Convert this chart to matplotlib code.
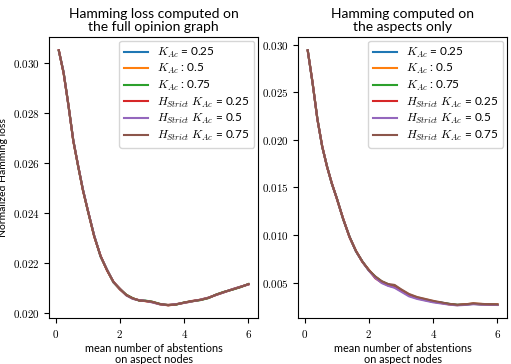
import matplotlib
matplotlib.use("Agg")
import matplotlib.pyplot as plt
from matplotlib.ticker import FuncFormatter

plt.rcParams['font.family'] = ['Lato', 'DejaVu Sans']
plt.rcParams['mathtext.fontset'] = 'cm'

# abscisses communes (nombre moyen d'abstentions)
x = [0.1, 0.25, 0.4, 0.55, 0.7, 0.85, 1.0, 1.2, 1.4, 1.6, 1.8, 2.0, 2.2, 2.4, 2.6,
     2.8, 3.0, 3.25, 3.5, 3.75, 4.0, 4.25, 4.5, 4.75, 5.0, 5.25, 5.5, 5.75, 6.0]

labels = [r"$K_{Ac}$ = 0.25", r"$K_{Ac}$ : 0.5", r"$K_{Ac}$ : 0.75",
          r"$H_{Strict}$ $K_{Ac}$ = 0.25", r"$H_{Strict}$ $K_{Ac}$ = 0.5",
          r"$H_{Strict}$ $K_{Ac}$ = 0.75"]

# graphe complet
full_k025 = [0.03052, 0.02963, 0.02833, 0.02691, 0.02590, 0.02493, 0.02412, 0.02308, 0.02226, 0.02171,
             0.02123, 0.02095, 0.02071, 0.02057, 0.02049, 0.02047, 0.02043, 0.02034, 0.02030, 0.02033,
             0.02040, 0.02046, 0.02051, 0.02059, 0.02072, 0.02083, 0.02093, 0.02103, 0.02114]
full_k05 = [0.03053, 0.02962, 0.02831, 0.02690, 0.02589, 0.02492, 0.02411, 0.02307, 0.02227, 0.02170,
            0.02122, 0.02096, 0.02070, 0.02056, 0.02050, 0.02046, 0.02042, 0.02033, 0.02031, 0.02034,
            0.02039, 0.02045, 0.02052, 0.02060, 0.02071, 0.02082, 0.02094, 0.02104, 0.02113]
full_k075 = [0.03051, 0.02964, 0.02832, 0.02692, 0.02588, 0.02494, 0.02410, 0.02309, 0.02225, 0.02172,
             0.02121, 0.02094, 0.02072, 0.02058, 0.02048, 0.02048, 0.02044, 0.02035, 0.02030, 0.02032,
             0.02041, 0.02046, 0.02050, 0.02058, 0.02073, 0.02084, 0.02092, 0.02102, 0.02115]
full_h025 = [0.03053, 0.02960, 0.02834, 0.02689, 0.02591, 0.02491, 0.02413, 0.02306, 0.02228, 0.02169,
             0.02124, 0.02093, 0.02071, 0.02057, 0.02049, 0.02046, 0.02043, 0.02034, 0.02029, 0.02033,
             0.02040, 0.02047, 0.02051, 0.02059, 0.02072, 0.02083, 0.02093, 0.02103, 0.02114]
full_h05 = [0.03052, 0.02965, 0.02830, 0.02693, 0.02590, 0.02495, 0.02412, 0.02310, 0.02226, 0.02173,
            0.02122, 0.02096, 0.02069, 0.02055, 0.02050, 0.02047, 0.02041, 0.02033, 0.02031, 0.02034,
            0.02039, 0.02045, 0.02052, 0.02060, 0.02071, 0.02082, 0.02094, 0.02104, 0.02113]
full_h075 = [0.03053, 0.02962, 0.02832, 0.02691, 0.02589, 0.02492, 0.02411, 0.02307, 0.02226, 0.02171,
             0.02123, 0.02095, 0.02070, 0.02057, 0.02049, 0.02047, 0.02043, 0.02034, 0.02030, 0.02033,
             0.02040, 0.02046, 0.02051, 0.02059, 0.02072, 0.02083, 0.02093, 0.02103, 0.02114]

# aspects seulement
asp_k025 = [0.02940, 0.02600, 0.02220, 0.01930, 0.01720, 0.01540, 0.01390, 0.01170, 0.00980, 0.00830,
            0.00720, 0.00630, 0.00560, 0.00510, 0.00480, 0.00460, 0.00420, 0.00370, 0.00340, 0.00320,
            0.00300, 0.00290, 0.00275, 0.00265, 0.00270, 0.00278, 0.00272, 0.00270, 0.00268]
asp_k05 = [0.02938, 0.02605, 0.02215, 0.01935, 0.01715, 0.01545, 0.01385, 0.01175, 0.00975, 0.00835,
           0.00715, 0.00635, 0.00555, 0.00505, 0.00475, 0.00470, 0.00425, 0.00375, 0.00345, 0.00325,
           0.00305, 0.00285, 0.00270, 0.00262, 0.00272, 0.00280, 0.00275, 0.00268, 0.00270]
asp_k075 = [0.02942, 0.02598, 0.02222, 0.01928, 0.01722, 0.01538, 0.01392, 0.01168, 0.00982, 0.00828,
            0.00722, 0.00628, 0.00562, 0.00512, 0.00482, 0.00455, 0.00418, 0.00368, 0.00338, 0.00318,
            0.00298, 0.00288, 0.00276, 0.00266, 0.00268, 0.00276, 0.00270, 0.00272, 0.00266]
asp_h025 = [0.02940, 0.02602, 0.02218, 0.01932, 0.01718, 0.01542, 0.01388, 0.01172, 0.00978, 0.00832,
            0.00718, 0.00632, 0.00545, 0.00500, 0.00470, 0.00450, 0.00415, 0.00365, 0.00335, 0.00315,
            0.00298, 0.00286, 0.00272, 0.00264, 0.00269, 0.00277, 0.00271, 0.00269, 0.00267]
asp_h05 = [0.02939, 0.02601, 0.02219, 0.01931, 0.01719, 0.01541, 0.01389, 0.01171, 0.00979, 0.00829,
           0.00719, 0.00625, 0.00550, 0.00495, 0.00465, 0.00445, 0.00405, 0.00355, 0.00328, 0.00310,
           0.00292, 0.00280, 0.00268, 0.00260, 0.00265, 0.00272, 0.00268, 0.00266, 0.00264]
asp_h075 = [0.02941, 0.02599, 0.02221, 0.01929, 0.01721, 0.01539, 0.01391, 0.01169, 0.00981, 0.00831,
            0.00721, 0.00631, 0.00565, 0.00515, 0.00485, 0.00475, 0.00430, 0.00380, 0.00348, 0.00328,
            0.00308, 0.00292, 0.00276, 0.00266, 0.00271, 0.00281, 0.00276, 0.00271, 0.00270]

full = [full_k025, full_k05, full_k075, full_h025, full_h05, full_h075]
asp = [asp_k025, asp_k05, asp_k075, asp_h025, asp_h05, asp_h075]
colors = ['C0', 'C1', 'C2', 'C3', 'C4', 'C5']

fig, (ax1, ax2) = plt.subplots(1, 2, figsize=(5.11, 3.64), dpi=100)
fig.subplots_adjust(left=0.0965, right=0.992, top=0.897, bottom=0.126, wspace=0.193)

for ax, series, title in [(ax1, full, "Hamming loss computed on\nthe full opinion graph"),
                          (ax2, asp, "Hamming computed on\nthe aspects only")]:
    for ys, c, lab in zip(series, colors, labels):
        ax.plot(x, ys, color=c, lw=1.5, label=lab)
    ax.set_title(title, fontsize=10, linespacing=1.1, pad=5)
    ax.set_xlabel("mean number of abstentions\non aspect nodes", fontsize=7.8,
                  linespacing=1.0, labelpad=2)
    ax.set_xticks([0, 2, 4, 6])
    ax.xaxis.set_major_formatter(FuncFormatter(lambda v, p: "$%d$" % v))
    ax.yaxis.set_major_formatter(FuncFormatter(lambda v, p: "$%.3f$" % v))
    ax.tick_params(labelsize=8)
    ax.legend(loc='upper right', fontsize=8.5, labelspacing=0.22, borderaxespad=0.3)

ax1.set_yticks([0.020, 0.022, 0.024, 0.026, 0.028, 0.030])
ax2.set_yticks([0.005, 0.010, 0.015, 0.020, 0.025, 0.030])
ax1.set_ylabel("Normalized Hamming loss", fontsize=7.5, labelpad=3)

fig.savefig("out.png", dpi=100)
